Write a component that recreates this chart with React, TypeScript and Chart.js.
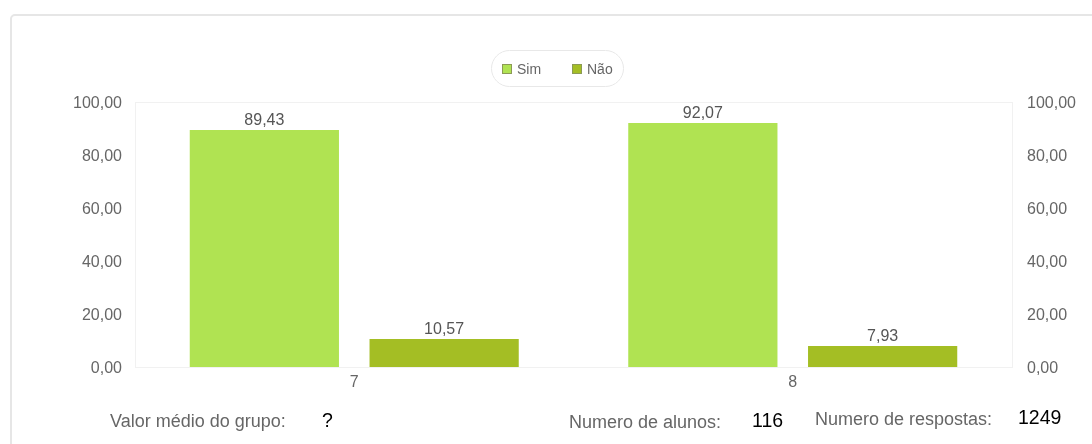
import React, { useEffect, useRef } from "react";
import { Chart, registerables } from "chart.js";

Chart.register(...registerables);

const categories = ["7", "8"];
const seriesNames = ["Sim", "Não"];
const simValues = [89.43, 92.07];
const naoValues = [10.57, 7.93];
const yTicks = [0, 20, 40, 60, 80, 100];
const footerItems = [
  { label: "Valor médio do grupo:", value: "?" },
  { label: "Numero de alunos:", value: "116" },
  { label: "Numero de respostas:", value: "1249" },
];

const SIM_COLOR = "#b0e352";
const NAO_COLOR = "#a4be24";
const FONT = "'Liberation Sans', Arial, sans-serif";

const fmt = (v: number) => v.toFixed(2).replace(".", ",");

const framePlugin = {
  id: "frame",
  beforeDatasetsDraw(chart: any) {
    const { ctx, chartArea } = chart;
    ctx.save();
    ctx.strokeStyle = "#f1f1f1";
    ctx.lineWidth = 1;
    ctx.strokeRect(
      Math.round(chartArea.left) + 0.5,
      Math.round(chartArea.top) + 0.5,
      Math.round(chartArea.right - chartArea.left),
      Math.round(chartArea.bottom - chartArea.top)
    );
    ctx.restore();
  },
};

const valueLabelPlugin = {
  id: "valueLabels",
  afterDatasetsDraw(chart: any) {
    const { ctx } = chart;
    ctx.save();
    ctx.font = `16px ${FONT}`;
    ctx.fillStyle = "#555555";
    ctx.textAlign = "center";
    ctx.textBaseline = "middle";
    chart.data.datasets.forEach((ds: any, i: number) => {
      const meta = chart.getDatasetMeta(i);
      meta.data.forEach((bar: any, j: number) => {
        ctx.fillText(fmt(ds.data[j]), bar.x, bar.y - 9);
      });
    });
    ctx.restore();
  },
};

export default function App() {
  const canvasRef = useRef<HTMLCanvasElement | null>(null);

  useEffect(() => {
    const canvas = canvasRef.current;
    if (!canvas) return;
    const tickCfg = (padding: number) => ({
      min: 0,
      max: 100,
      afterBuildTicks: (scale: any) => {
        scale.ticks = yTicks.map((v) => ({ value: v }));
      },
      grid: { display: false, drawTicks: false },
      border: { display: false },
      ticks: {
        padding,
        labelOffset: 2,
        color: "#666666",
        font: { size: 16, family: FONT },
        callback: (v: any) => fmt(Number(v)),
      },
    });
    const chart = new Chart(canvas, {
      type: "bar",
      data: {
        labels: categories,
        datasets: [
          {
            label: seriesNames[0],
            data: simValues,
            backgroundColor: SIM_COLOR,
            categoryPercentage: 0.82,
            barPercentage: 0.83,
          },
          {
            label: seriesNames[1],
            data: naoValues,
            backgroundColor: NAO_COLOR,
            categoryPercentage: 0.82,
            barPercentage: 0.83,
          },
        ],
      },
      options: {
        responsive: false,
        animation: false,
        layout: { padding: { top: 102, left: 0, right: 0, bottom: 0 } },
        plugins: {
          legend: { display: false },
          tooltip: { enabled: false },
        },
        scales: {
          x: {
            grid: { display: false, drawTicks: false },
            border: { display: false },
            ticks: {
              padding: 6,
              color: "#666666",
              font: { size: 16, family: FONT },
            },
            afterFit: (scale: any) => {
              scale.height = 444 - 367;
            },
          },
          y: {
            position: "left",
            ...tickCfg(13),
            afterFit: (scale: any) => {
              scale.width = 135;
            },
          } as any,
          y2: {
            position: "right",
            ...tickCfg(15),
            afterFit: (scale: any) => {
              scale.width = 1092 - 1012;
            },
          } as any,
        },
      },
      plugins: [framePlugin, valueLabelPlugin],
    });
    return () => chart.destroy();
  }, []);

  const textBase: React.CSSProperties = {
    position: "absolute",
    fontFamily: FONT,
    fontSize: 18,
    lineHeight: "20px",
    whiteSpace: "nowrap",
  };
  const valueStyle: React.CSSProperties = {
    ...textBase,
    fontSize: 19.5,
    lineHeight: "22px",
    color: "#000000",
  };

  return (
    <div
      style={{
        position: "fixed",
        left: 0,
        top: 0,
        width: 1092,
        height: 444,
        overflow: "hidden",
        background: "#ffffff",
      }}
    >
      <div
        style={{
          position: "absolute",
          left: 10,
          top: 14,
          width: 1120,
          height: 520,
          border: "2px solid #e6e6e6",
          borderRadius: 5,
          boxSizing: "border-box",
        }}
      />
      <canvas
        ref={canvasRef}
        width={1092}
        height={444}
        style={{ position: "absolute", left: 0, top: 0, width: 1092, height: 444 }}
      />
      <div
        style={{
          position: "absolute",
          left: 491,
          top: 50,
          width: 133,
          height: 37,
          border: "1px solid #e8e8e8",
          borderRadius: 19,
          boxSizing: "border-box",
        }}
      />
      {seriesNames.map((name, i) => {
        const sx = i === 0 ? 502 : 572;
        return (
          <React.Fragment key={name}>
            <div
              style={{
                position: "absolute",
                left: sx,
                top: 64,
                width: 10,
                height: 10,
                background: i === 0 ? SIM_COLOR : NAO_COLOR,
                border: "1px solid #8c9a55",
                boxSizing: "border-box",
              }}
            />
            <div
              style={{
                ...textBase,
                left: sx + 15,
                top: 60,
                fontSize: 14,
                lineHeight: "18px",
                color: "#666666",
              }}
            >
              {name}
            </div>
          </React.Fragment>
        );
      })}
      <div style={{ ...textBase, left: 110, top: 411, color: "#666666" }}>
        {footerItems[0].label}
      </div>
      <div style={{ ...valueStyle, left: 322, top: 409 }}>
        {footerItems[0].value}
      </div>
      <div style={{ ...textBase, left: 569, top: 412, color: "#666666" }}>
        {footerItems[1].label}
      </div>
      <div style={{ ...valueStyle, left: 752, top: 409 }}>
        {footerItems[1].value}
      </div>
      <div style={{ ...textBase, left: 815, top: 409, color: "#666666" }}>
        {footerItems[2].label}
      </div>
      <div style={{ ...valueStyle, left: 1018, top: 406 }}>
        {footerItems[2].value}
      </div>
    </div>
  );
}
